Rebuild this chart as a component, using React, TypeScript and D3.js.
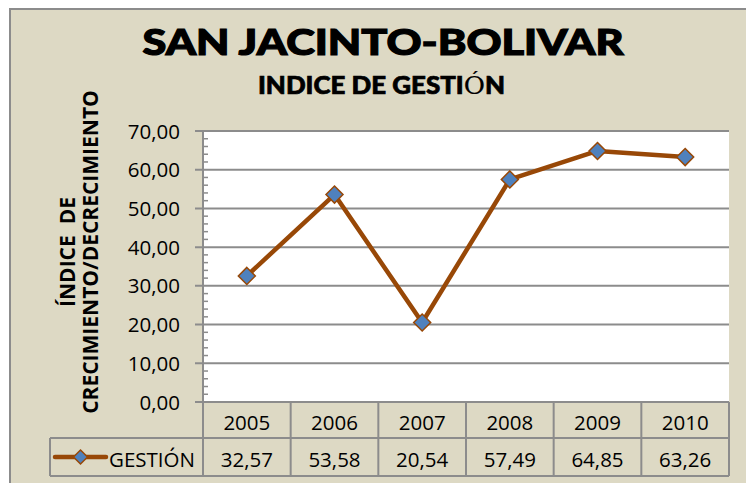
import React from "react";
import * as d3 from "d3";

const years = ["2005", "2006", "2007", "2008", "2009", "2010"];
const gestion = [32.57, 53.58, 20.54, 57.49, 64.85, 63.26];
const yTicks = [0, 10, 20, 30, 40, 50, 60, 70];
const seriesName = "GESTIÓN";
const title = "SAN JACINTO-BOLIVAR";
const subtitlePre = "INDICE DE GESTI";
const subtitleO = "Ó";
const subtitlePost = "N";
const yLabel1 = "ÍNDICE  DE";
const yLabel2 = "CRECIMIENTO/DECRECIMIENTO";

const W = 746;
const H = 483;
const BG = "#DDD9C4";
const GRID = "#8C8C8C";
const LINE = "#984807";
const MARK = "#4F81BD";
const FONT = "'Open Sans', sans-serif";
const NUM_SIZE = 20.5;

const fmt = (v: number) => v.toFixed(2).replace(".", ",");

export default function App() {
  const left = 203, right = 729, top = 131, bottom = 402;
  const row1 = 438, row2 = 476, legendLeft = 50;
  const x = d3.scaleBand<string>().domain(years).range([left, right]).padding(0);
  const y = d3.scaleLinear().domain([0, 70]).range([bottom, top]);
  const cx = (yr: string) => (x(yr) as number) + x.bandwidth() / 2;
  const minor = d3.range(0, 70, 2).filter((v) => v % 10 !== 0);
  const line = d3
    .line<number>()
    .x((_, i) => cx(years[i]))
    .y((d) => y(d));
  const diamond = (px: number, py: number, r: number) =>
    `M${px},${py - r}L${px + r},${py}L${px},${py + r}L${px - r},${py}Z`;

  return (
    <svg
      width={W}
      height={H}
      style={{ position: "absolute", left: 0, top: 0, display: "block" }}
    >
      <rect x={0} y={0} width={W} height={H} fill="#ffffff" />
      <rect x={10} y={9} width={W + 20} height={H + 20} fill={BG} stroke={GRID} strokeWidth={2} />
      <text
        x={383}
        y={55}
        textAnchor="middle"
        fontFamily="Lato, sans-serif"
        fontWeight={900}
        fontSize={36}
        textLength={481}
        lengthAdjust="spacingAndGlyphs"
        fill="#000"
        stroke="#000"
        strokeWidth={1.2}
      >
        {title}
      </text>
      <text
        x={381.5}
        y={94}
        textAnchor="middle"
        fontFamily="Lato, sans-serif"
        fontWeight={900}
        fontSize={24}
        textLength={247}
        lengthAdjust="spacingAndGlyphs"
        fill="#000"
        stroke="#000"
        strokeWidth={0.7}
      >
        {subtitlePre}
        <tspan fontFamily="'DejaVu Serif', serif" fontWeight={400} strokeWidth={0.2}>{subtitleO}</tspan>
        {subtitlePost}
      </text>

      <g transform={`translate(75,252) rotate(-90)`}>
        <text textAnchor="middle" fontFamily={FONT} fontWeight={700} fontSize={21} style={{ whiteSpace: "pre" }}>
          {yLabel1}
        </text>
      </g>
      <g transform={`translate(98,252) rotate(-90)`}>
        <text textAnchor="middle" fontFamily={FONT} fontWeight={700} fontSize={21}>
          {yLabel2}
        </text>
      </g>

      <rect x={left} y={top} width={right - left} height={bottom - top} fill="#ffffff" />
      {yTicks.map((t) => (
        <g key={t}>
          <line x1={left - 8} x2={right} y1={y(t)} y2={y(t)} stroke={GRID} strokeWidth={2} />
          <text
            x={180}
            y={y(t) + 7.5}
            textAnchor="end"
            fontFamily={FONT}
            fontSize={NUM_SIZE}
            fill="#000"
          >
            {fmt(t)}
          </text>
        </g>
      ))}
      {minor.map((t) => (
        <line key={t} x1={left} x2={left + 5} y1={y(t)} y2={y(t)} stroke={GRID} strokeWidth={1.5} />
      ))}
      <line x1={left} x2={left} y1={top} y2={row2} stroke={GRID} strokeWidth={2} />

      {/* data table */}
      <line x1={left} x2={right} y1={row1} y2={row1} stroke={GRID} strokeWidth={2} />
      <line x1={legendLeft} x2={left} y1={row1} y2={row1} stroke={GRID} strokeWidth={2} />
      <line x1={legendLeft} x2={right} y1={row2} y2={row2} stroke={GRID} strokeWidth={2} />
      <line x1={legendLeft} x2={legendLeft} y1={row1} y2={row2} stroke={GRID} strokeWidth={2} />
      {years.map((yr, i) => (
        <g key={yr}>
          <line
            x1={(x(yr) as number) + x.bandwidth()}
            x2={(x(yr) as number) + x.bandwidth()}
            y1={bottom}
            y2={row2}
            stroke={GRID}
            strokeWidth={2}
          />
          <text x={cx(yr)} y={429.5} textAnchor="middle" fontFamily={FONT} fontSize={NUM_SIZE} fill="#000">
            {yr}
          </text>
          <text x={cx(yr)} y={466.5} textAnchor="middle" fontFamily={FONT} fontSize={NUM_SIZE} fill="#000">
            {fmt(gestion[i])}
          </text>
        </g>
      ))}
      <line x1={55} x2={106} y1={457} y2={457} stroke={LINE} strokeWidth={4.5} strokeLinecap="round" />
      <path d={diamond(80.5, 457, 7)} fill={MARK} stroke={LINE} strokeWidth={1.5} />
      <text x={109} y={466.5} fontFamily={FONT} fontSize={NUM_SIZE} fill="#000">
        {seriesName}
      </text>

      {/* series */}
      <path d={line(gestion) as string} fill="none" stroke={LINE} strokeWidth={4.5} strokeLinejoin="round" />
      {gestion.map((v, i) => (
        <path key={i} d={diamond(cx(years[i]), y(v), 8.5)} fill={MARK} stroke={LINE} strokeWidth={1.5} />
      ))}
    </svg>
  );
}
